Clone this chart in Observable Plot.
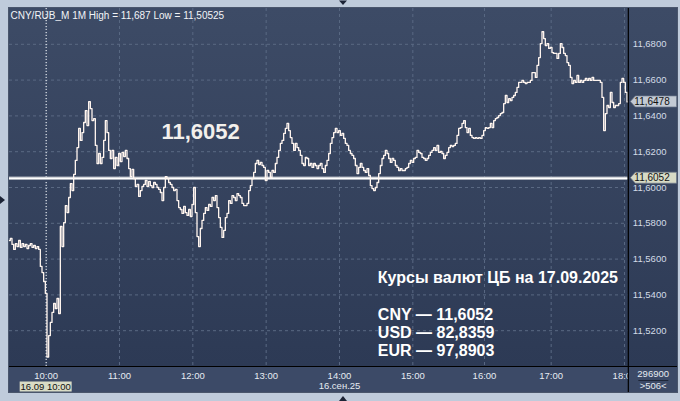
<!DOCTYPE html>
<html><head><meta charset="utf-8">
<script src="https://cdn.jsdelivr.net/npm/d3@7"></script>
<script src="https://cdn.jsdelivr.net/npm/@observablehq/plot@0.6"></script>
<style>
html,body{margin:0;padding:0;background:#bfcbdb;}
#chart{width:680px;height:401px;overflow:hidden;}
</style></head><body><div id="chart"></div>
<script>
// 1-minute CNY/RUB_M closes, one value per bar index (left to right)
const prices = [
11.5704,11.5715,11.5682,11.5654,11.5687,11.5670,11.5704,11.5665,11.5687,11.5670,
11.5682,11.5659,11.5676,11.5687,11.5665,11.5676,11.5659,11.5670,11.5654,11.5559,
11.5525,11.5475,11.5408,11.5053,11.5173,11.5246,11.5302,11.5352,11.5324,11.5380,
11.5296,11.5782,11.5670,11.5804,11.5899,11.5860,11.5944,11.6022,11.5983,11.6073,
11.6151,11.6223,11.6330,11.6263,11.6307,11.6363,11.6430,11.6346,11.6480,11.6441,
11.6374,11.6385,11.6235,11.6134,11.6190,11.6134,11.6168,11.6263,11.6374,11.6307,
11.6207,11.6162,11.6207,11.6106,11.6168,11.6123,11.6190,11.6145,11.6196,11.6173,
11.6207,11.6162,11.6106,11.6061,11.6101,11.6050,11.6006,11.6017,11.5950,11.5983,
11.6006,11.6017,11.6039,11.6006,11.6034,11.6011,11.6000,11.6028,11.6017,11.6000,
11.5989,11.5972,11.5927,11.6000,11.6061,11.6050,11.6028,11.6017,11.6000,11.5983,
11.5989,11.5927,11.5888,11.5877,11.5855,11.5894,11.5860,11.5844,11.5877,11.5838,
11.5905,11.6000,11.5860,11.5726,11.5670,11.5771,11.5816,11.5855,11.5888,11.5872,
11.5905,11.5894,11.5944,11.5927,11.5955,11.5888,11.5832,11.5777,11.5721,11.5760,
11.5832,11.5855,11.5927,11.5911,11.5955,11.5944,11.5927,11.5966,11.5955,11.5944,
11.5911,11.5899,11.5899,11.5911,11.5983,11.6011,11.6050,11.6084,11.6134,11.6151,
11.6128,11.6140,11.6123,11.6112,11.6039,11.6095,11.6084,11.6056,11.6095,11.6084,
11.6134,11.6168,11.6207,11.6246,11.6263,11.6302,11.6330,11.6358,11.6318,11.6279,
11.6246,11.6207,11.6246,11.6223,11.6207,11.6179,11.6134,11.6123,11.6168,11.6162,
11.6123,11.6134,11.6112,11.6134,11.6123,11.6106,11.6123,11.6134,11.6106,11.6084,
11.6123,11.6151,11.6190,11.6246,11.6279,11.6307,11.6330,11.6307,11.6318,11.6291,
11.6302,11.6274,11.6246,11.6235,11.6207,11.6190,11.6179,11.6162,11.6123,11.6078,
11.6112,11.6134,11.6112,11.6095,11.6084,11.6106,11.6067,11.6011,11.5994,11.5983,
11.6000,11.6028,11.6078,11.6123,11.6162,11.6179,11.6207,11.6190,11.6162,11.6140,
11.6162,11.6151,11.6123,11.6112,11.6095,11.6106,11.6095,11.6095,11.6106,11.6112,
11.6134,11.6151,11.6140,11.6162,11.6168,11.6207,11.6196,11.6190,11.6168,11.6162,
11.6151,11.6162,11.6179,11.6196,11.6207,11.6223,11.6207,11.6235,11.6196,11.6201,
11.6190,11.6162,11.6179,11.6196,11.6223,11.6235,11.6229,11.6235,11.6246,11.6291,
11.6330,11.6335,11.6358,11.6374,11.6335,11.6307,11.6330,11.6291,11.6279,11.6274,
11.6279,11.6274,11.6279,11.6274,11.6291,11.6318,11.6335,11.6330,11.6335,11.6358,
11.6335,11.6374,11.6385,11.6391,11.6402,11.6413,11.6419,11.6469,11.6514,11.6475,
11.6497,11.6486,11.6503,11.6514,11.6531,11.6559,11.6587,11.6587,11.6598,11.6587,
11.6581,11.6587,11.6587,11.6598,11.6642,11.6642,11.6615,11.6682,11.6726,11.6804,
11.6870,11.6832,11.6793,11.6804,11.6777,11.6782,11.6754,11.6749,11.6749,11.6721,
11.6749,11.6804,11.6782,11.6749,11.6737,11.6698,11.6682,11.6615,11.6581,11.6598,
11.6587,11.6626,11.6587,11.6598,11.6587,11.6598,11.6609,11.6598,11.6609,11.6598,
11.6615,11.6598,11.6598,11.6598,11.6598,11.6587,11.6503,11.6318,11.6413,11.6458,
11.6447,11.6531,11.6475,11.6447,11.6458,11.6458,11.6469,11.6587,11.6609,11.6587,
11.6531,11.6478
];
// bar indices where each hour starts, and their labels
const hourIdx = [22, 66, 110, 154, 198, 242, 285, 325, 369];
const hourLabels = ["10:00","11:00","12:00","13:00","14:00","15:00","16:00","17:00","18:00"];
const yTicks = [11.52, 11.54, 11.56, 11.58, 11.60, 11.62, 11.64, 11.66, 11.68];
const yDomain = [11.5, 11.7];
const cbRate = 11.6052;
const lastPrice = 11.6478;
const cursorIdx = 22;
const cursorLabel = "16.09 10:00";
const dateIdx = 198;
const dateLabel = "16.сен.25";
const headerText = "CNY/RUB_M 1M High = 11,687 Low = 11,50525";
const bigLabel = "11,6052";
const cbTitle = "Курсы валют ЦБ на 17.09.2025";
const cbLines = ["CNY — 11,6052", "USD — 82,8359", "EUR — 97,8903"];
const volumeText = "296900";
const barsText = ">506<";

const fmt = d => d.toFixed(4).replace(".", ",");
const FONT = "Liberation Sans, Arial, sans-serif";
const W = 680, H = 401;
const rateOffsets = [-52, -34, -16];

const plot = Plot.plot({
  width: W, height: H,
  marginLeft: 9, marginRight: 52.67, marginTop: 8, marginBottom: 35,
  style: {background: "transparent", fontFamily: FONT, overflow: "visible"},
  x: {domain: [0, prices.length - 1], axis: null},
  y: {domain: yDomain, axis: null},
  marks: [
    Plot.ruleY(yTicks, {stroke: "#5a6983", strokeDasharray: "3,3", strokeWidth: 1}),
    Plot.ruleX(hourIdx, {stroke: "#5a6983", strokeDasharray: "3,3", strokeWidth: 1}),
    Plot.ruleX([cursorIdx], {stroke: "#ffffff", strokeDasharray: "1,2", strokeWidth: 1}),
    Plot.ruleY([cbRate], {stroke: "#a9afb9", strokeWidth: 3.5}),
    Plot.ruleY([cbRate], {stroke: "#ffffff", strokeWidth: 1.5}),
    Plot.line(prices, {x: (d, i) => i, y: d => d, stroke: "#fff5ef", strokeWidth: 1.3, curve: "step"}),
    Plot.text(yTicks, {frameAnchor: "right", y: d => d, dx: 5, textAnchor: "start", lineAnchor: "middle", text: fmt, fill: "#d3dbe7", fontSize: 9.5}),
    Plot.text(hourIdx, {x: d => d, frameAnchor: "bottom", dy: 9, lineAnchor: "middle", text: (d, i) => hourLabels[i], fill: "#e6ebf2", fontSize: 9.5}),
    Plot.text([dateIdx], {x: d => d, frameAnchor: "bottom", dy: 19, lineAnchor: "middle", text: [dateLabel], fill: "#e6ebf2", fontSize: 9.5}),
    Plot.text([headerText], {frameAnchor: "top-left", dx: 1, dy: 7, textAnchor: "start", lineAnchor: "middle", fill: "#f2f4f7", fontSize: 10}),
    Plot.text([bigLabel], {frameAnchor: "top-left", dx: 152, dy: 123, textAnchor: "start", lineAnchor: "middle", fill: "#f3f0ec", fontSize: 22, fontWeight: "bold"}),
    Plot.text([cbTitle], {frameAnchor: "bottom-right", dx: -250, dy: -89, textAnchor: "start", lineAnchor: "middle", fill: "#ffffff", fontSize: 16, fontWeight: "bold"}),
    ...cbLines.map((t, i) => Plot.text([t], {frameAnchor: "bottom-right", dx: -250, dy: rateOffsets[i], textAnchor: "start", lineAnchor: "middle", fill: "#ffffff", fontSize: 16, fontWeight: "bold"}))
  ]
});

document.getElementById("chart").appendChild(plot);
const svg = d3.select(plot);
const xr = plot.scale("x").range, yr = plot.scale("y").range;
const xs = d3.scaleLinear(plot.scale("x").domain, xr);
const ys = d3.scaleLinear(plot.scale("y").domain, yr);
const L = xr[0], R = xr[1], T = yr[1], B = yr[0];
const PR = W - 3, PB = B + 26;

// backgrounds
const bg = svg.insert("g", ":first-child");
const defs = svg.insert("defs", ":first-child");
const grad = defs.append("linearGradient").attr("id", "pbg").attr("x1", 0).attr("x2", 0).attr("y1", 0).attr("y2", 1);
grad.append("stop").attr("offset", "0%").attr("stop-color", "#3d4b66");
grad.append("stop").attr("offset", "100%").attr("stop-color", "#2d3a55");
bg.append("rect").attr("x", L - 1).attr("y", T - 1).attr("width", PR - L + 2).attr("height", PB - T + 2).attr("fill", "#4a566c");
bg.append("rect").attr("x", L).attr("y", T).attr("width", PR - L).attr("height", B - T).attr("fill", "url(#pbg)");
bg.append("rect").attr("x", L).attr("y", B).attr("width", PR - L).attr("height", PB - B).attr("fill", "#3c4a67");

// frame lines and right-bottom panel
const over = svg.append("g").attr("text-anchor", "start").attr("font-family", FONT);
over.append("rect").attr("x", R + 1).attr("y", B + 1).attr("width", PR - R - 1).attr("height", PB - B - 1).attr("fill", "#3c4a67");
over.append("line").attr("x1", R + 1).attr("x2", R + 1).attr("y1", T).attr("y2", PB).attr("stroke", "#000").attr("stroke-width", 1.2);
over.append("line").attr("x1", L).attr("x2", PR).attr("y1", B + 0.5).attr("y2", B + 0.5).attr("stroke", "#000").attr("stroke-width", 1.2);
over.append("text").attr("x", (R + PR) / 2 + 1).attr("y", B + 8).attr("dy", "0.35em").attr("text-anchor", "middle")
  .attr("fill", "#e6ebf2").attr("font-size", 9.5).text(volumeText);
over.append("line").attr("x1", R + 11).attr("x2", R + 41).attr("y1", B + 14.5).attr("y2", B + 14.5).attr("stroke", "#1e2638");
over.append("text").attr("x", (R + PR) / 2 + 1).attr("y", B + 20).attr("dy", "0.35em").attr("text-anchor", "middle")
  .attr("fill", "#e6ebf2").attr("font-size", 9.5).text(barsText);

// price tags on the right axis
function tag(v, fill) {
  const y = ys(v);
  over.append("path").attr("d", `M${R + 3},${y} L${R + 8},${y - 5.5} H${PR - 0.5} V${y + 5.5} H${R + 8} Z`)
    .attr("fill", fill).attr("stroke", "#6f7a8c").attr("stroke-width", 0.7);
  over.append("text").attr("x", R + 7).attr("y", y).attr("dy", "0.36em").attr("text-anchor", "start").attr("fill", "#111")
    .attr("font-size", 10).text(fmt(v));
}
tag(lastPrice, "#c3cad4");
tag(cbRate, "#d8dbc6");

// cursor time tag
const cx = xs(cursorIdx);
over.append("rect").attr("x", cx - 26).attr("y", B + 15.5).attr("width", 52).attr("height", 10).attr("fill", "#d9dcc6");
over.append("text").attr("x", cx).attr("y", B + 20.5).attr("dy", "0.36em").attr("text-anchor", "middle")
  .attr("fill", "#111").attr("font-size", 9.5).text(cursorLabel);

// center markers
const mx = (L + PR) / 2, my = (T + PB) / 2;
over.append("path").attr("d", `M${mx - 4},0.5 H${mx + 4} L${mx},5 Z`).attr("fill", "#1c2436");
over.append("path").attr("d", `M${mx - 4},${H} H${mx + 4} L${mx},${H - 5} Z`).attr("fill", "#1c2436");
over.append("path").attr("d", `M0,${my - 4} V${my + 4} L5,${my} Z`).attr("fill", "#1c2436");
</script></body></html>
